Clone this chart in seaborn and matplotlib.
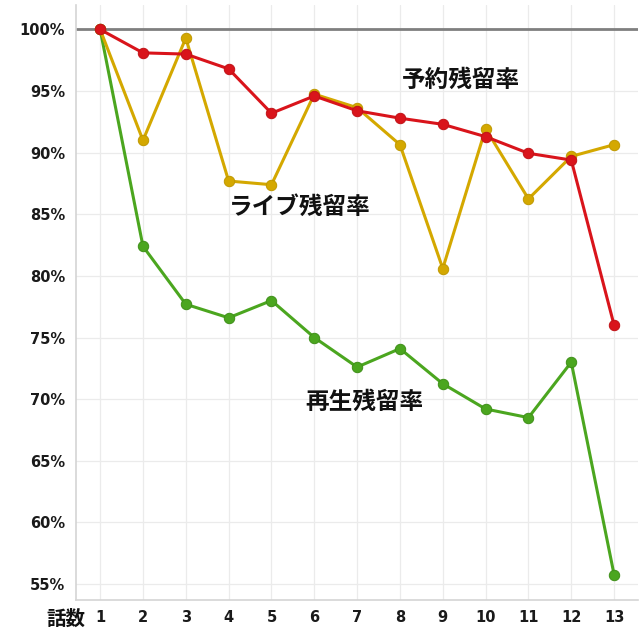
import pandas as pd
import matplotlib.pyplot as plt
import seaborn as sns
from matplotlib.ticker import FuncFormatter

# data (percent)
episodes = list(range(1, 14))
yoyaku = [100, 98.1, 98.0, 96.8, 93.2, 94.6, 93.4, 92.8, 92.3, 91.3, 89.95, 89.4, 76.0]
live = [100, 91.0, 99.3, 87.7, 87.4, 94.75, 93.65, 90.65, 80.6, 91.95, 86.25, 89.7, 90.65]
saisei = [100, 82.4, 77.7, 76.6, 78.0, 75.0, 72.6, 74.1, 71.25, 69.2, 68.5, 73.0, 55.75]

series_names = ["再生残留率", "ライブ残留率", "予約残留率"]
colors = ["#4ba61f", "#d4a800", "#d9141b"]
edge_colors = ["#3f8f19", "#bf9800", "#c01217"]
y_ticks = [55, 60, 65, 70, 75, 80, 85, 90, 95, 100]

df = pd.concat([
    pd.DataFrame({"話数": episodes, "rate": saisei, "series": series_names[0]}),
    pd.DataFrame({"話数": episodes, "rate": live, "series": series_names[1]}),
    pd.DataFrame({"話数": episodes, "rate": yoyaku, "series": series_names[2]}),
])

sns.set_style("whitegrid")
plt.rcParams["font.family"] = ["DejaVu Sans", "Noto Sans CJK JP"]

fig = plt.figure(figsize=(6.4, 6.4), dpi=100)
ax = fig.add_axes([0.119, 0.0625, 0.878, 0.93])

# reference line at 100%
ax.axhline(100, color="#7f7f7f", lw=2, zorder=1)

for name, c, ec in zip(series_names, colors, edge_colors):
    sub = df[df["series"] == name]
    sns.lineplot(data=sub, x="話数", y="rate", ax=ax, color=c, lw=2.2,
                 marker="o", markersize=7.5, markeredgecolor=ec,
                 markeredgewidth=0.7, legend=False, zorder=3)

ax.set_xlim(0.44, 13.56)
ax.set_ylim(53.7, 102.0)
ax.set_xticks(episodes)
ax.set_yticks(y_ticks)
ax.yaxis.set_major_formatter(FuncFormatter(lambda v, p: f"{v:.0f}%"))
ax.tick_params(axis="both", length=0, labelsize=10.5, labelcolor="#1a1a1a")
ax.tick_params(axis="x", pad=7)
ax.tick_params(axis="y", pad=8)
for lab in ax.get_xticklabels() + ax.get_yticklabels():
    lab.set_fontweight("bold")

ax.grid(True, color="#ebebeb", lw=0.9)
ax.set_xlabel("")
ax.set_ylabel("")
for side in ["top", "right"]:
    ax.spines[side].set_visible(False)
for side in ["left", "bottom"]:
    ax.spines[side].set_color("#d4d4d4")
    ax.spines[side].set_linewidth(1.2)

cjk = ["Noto Sans CJK JP", "DejaVu Sans"]
ax.text(9.43, 95.9, "予約残留率", fontsize=17, fontweight="bold", family=cjk,
        ha="center", va="center", color="#111111")
ax.text(5.67, 85.6, "ライブ残留率", fontsize=17, fontweight="bold", family=cjk,
        ha="center", va="center", color="#111111")
ax.text(7.16, 69.8, "再生残留率", fontsize=17, fontweight="bold", family=cjk,
        ha="center", va="center", color="#111111")
fig.text(66 / 640, 1 - 619 / 640, "話数", fontsize=14, fontweight="bold",
         family=cjk, ha="center", va="center", color="#111111")

plt.savefig("out.png", dpi=100)
